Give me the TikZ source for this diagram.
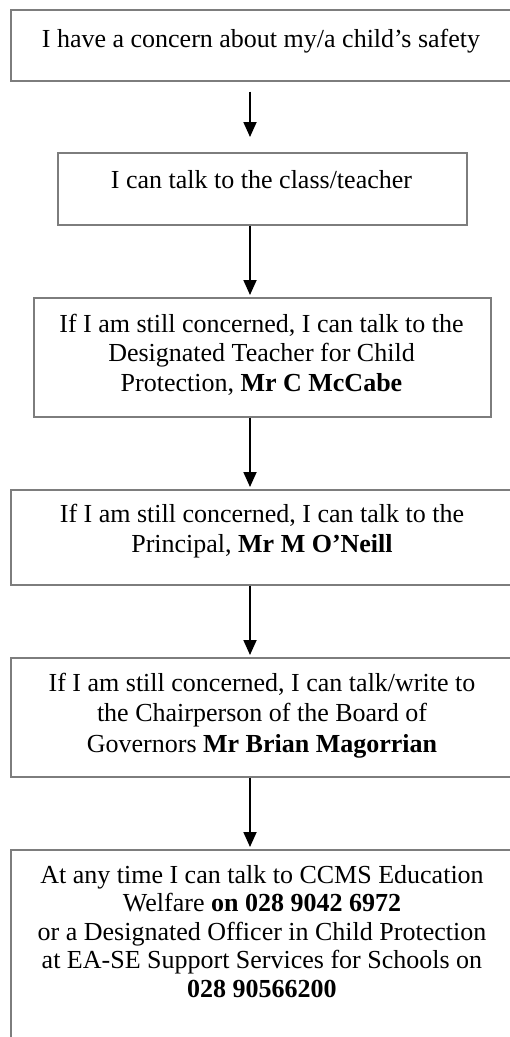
\documentclass[tikz,border=0pt]{standalone}
\usepackage{fontspec}
\setmainfont{Liberation Serif}
\usetikzlibrary{arrows.meta}
\definecolor{boxgray}{RGB}{125,125,125}
\tikzset{
  box/.style={draw=boxgray, line width=1.5pt, rectangle, inner sep=0pt, anchor=north west},
  txt/.style={anchor=base, inner sep=0pt, font=\fontsize{26pt}{29.5pt}\selectfont},
  arr/.style={line width=1.8pt, -{Triangle[width=13pt,length=15pt]}, black},
}
\newcommand{\btext}[2]{\begin{minipage}[t]{490pt}\centering\fontsize{26pt}{#1}\selectfont #2\end{minipage}}
\begin{document}
\begin{tikzpicture}[x=1pt,y=-1pt]
\useasboundingbox (0,0) rectangle (510,1037);
\clip (0,0) rectangle (510,1037);
\fill[white] (0,0) rectangle (510,1037);
\coordinate (ax) at (250,0);
% boxes
\node[box, minimum width=502pt, minimum height=71pt] (b1) at (10,9) {};
\node[box, minimum width=409pt, minimum height=72pt] (b2) at (57,152) {};
\node[box, minimum width=457pt, minimum height=119pt] (b3) at (33,297) {};
\node[box, minimum width=502pt, minimum height=95pt] (b4) at (10,489) {};
\node[box, minimum width=502pt, minimum height=119pt] (b5) at (10,657) {};
\node[box, minimum width=502pt, minimum height=200pt] (b6) at (10,849) {};
% texts
\node[txt] (t1) at (261,47) {\btext{29.5pt}{I have a concern about my/a child’s safety}};
\node[txt] (t2) at (261.5,188) {\btext{29.5pt}{I can talk to the class/teacher}};
\node[txt] (t3) at (261.5,332) {\btext{29.5pt}{If I am still concerned, I can talk to the\\Designated Teacher for Child\\Protection, \textbf{Mr C McCabe}}};
\node[txt] (t4) at (262,522) {\btext{30pt}{If I am still concerned, I can talk to the\\Principal, \textbf{Mr M O’Neill}}};
\node[txt] (t5) at (262,691) {\btext{30.5pt}{If I am still concerned, I can talk/write to\\the Chairperson of the Board of\\Governors \textbf{Mr Brian Magorrian}}};
\node[txt] (t6) at (262,883) {\btext{28.5pt}{At any time I can talk to CCMS Education\\Welfare \textbf{on 028 9042 6972}\\or a Designated Officer in Child Protection\\at EA-SE Support Services for Schools on\\\textbf{028 90566200}}};
% arrows
\draw[arr, shorten <=10pt, shorten >=15pt] (b1.south -| ax) -- (b2.north -| ax);
\draw[arr, shorten >=2pt] (b2.south -| ax) -- (b3.north -| ax);
\draw[arr, shorten >=2pt] (b3.south -| ax) -- (b4.north -| ax);
\draw[arr, shorten >=2pt] (b4.south -| ax) -- (b5.north -| ax);
\draw[arr, shorten >=2pt] (b5.south -| ax) -- (b6.north -| ax);
\end{tikzpicture}
\end{document}
